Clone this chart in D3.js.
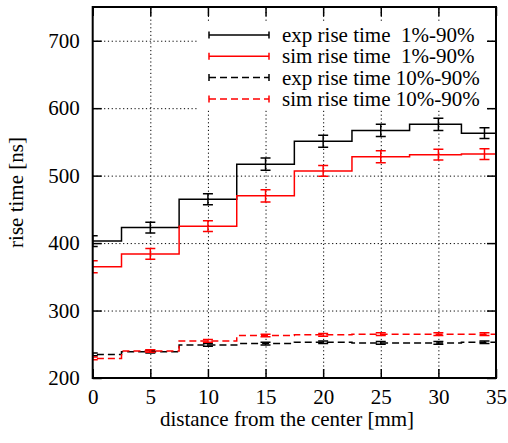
<!DOCTYPE html>
<html>
<head>
<meta charset="utf-8">
<script src="https://cdn.jsdelivr.net/npm/d3@7"></script>
<style>
  body { margin: 0; background: #fff; }
  svg { display: block; font-family: "Liberation Serif", "Times New Roman", serif; }
  .grid line { stroke: #000; stroke-width: 1; stroke-dasharray: 1.2,2.6; }
  .grid path { display: none; }
  .ax path { display: none; }
  .ax line { stroke: #000; stroke-width: 1.5; }
</style>
</head>
<body>
<script>
// distance from the center [mm]
var dist = [0, 5, 10, 15, 20, 25, 30, 34];

// rise time [ns]
var exp1 = [403, 423, 465, 517, 551, 567, 576, 563];
var exp1Err = [8, 8, 8, 9, 9, 9, 9, 8];
var sim1 = [365, 384, 425, 470, 507, 528, 531, 532];
var sim1Err = [9, 8, 8, 9, 8, 9, 8, 8];
var exp10 = [235, 239, 249, 251, 253, 252, 252, 253];
var exp10Err = [2, 2, 2, 2, 2, 2, 2, 2];
var sim10 = [229, 240, 255, 263, 264, 265, 265, 265];
var sim10Err = [2, 2, 2, 2, 2, 2, 2, 2];

var xTicks = [0, 5, 10, 15, 20, 25, 30, 35];
var yTicks = [200, 300, 400, 500, 600, 700];

var series = [
  {name: "exp rise time\u00a0\u00a01%-90%", y: exp1, err: exp1Err, color: "#000", dash: null},
  {name: "sim rise time\u00a0\u00a01%-90%", y: sim1, err: sim1Err, color: "#ff0000", dash: null},
  {name: "exp rise time 10%-90%", y: exp10, err: exp10Err, color: "#000", dash: "7,4"},
  {name: "sim rise time 10%-90%", y: sim10, err: sim10Err, color: "#ff0000", dash: "7,4"}
];

var W = 508, H = 443;
var pL = 92.7, pR = 496, pT = 7, pB = 378;
var serif = '"Liberation Serif", "Times New Roman", serif';

var x = d3.scaleLinear().domain([0, 35]).range([pL, pR]);
var y = d3.scaleLinear().domain([200, 750]).range([pB, pT]);

var svg = d3.select("body").append("svg")
  .attr("width", W)
  .attr("height", H);

svg.append("defs").append("clipPath").attr("id", "clip")
  .append("rect")
  .attr("x", pL).attr("y", pT)
  .attr("width", pR - pL).attr("height", pB - pT);

// grid
svg.append("g").attr("class", "grid")
  .attr("transform", "translate(0," + pB + ")")
  .call(d3.axisBottom(x).tickValues(xTicks.slice(1, -1)).tickSize(-(pB - pT)).tickFormat(""));
svg.append("g").attr("class", "grid")
  .attr("transform", "translate(" + pL + ",0)")
  .call(d3.axisLeft(y).tickValues(yTicks.slice(1)).tickSize(-(pR - pL)).tickFormat(""));

// data: histeps + error bars
var plot = svg.append("g").attr("clip-path", "url(#clip)");

function stepPoints(ys) {
  var n = dist.length, pts = [];
  for (var i = 0; i < n; i++) {
    var x0 = i === 0 ? dist[0] - (dist[1] - dist[0]) / 2 : (dist[i - 1] + dist[i]) / 2;
    var x1 = i === n - 1 ? dist[n - 1] + (dist[n - 1] - dist[n - 2]) / 2 : (dist[i] + dist[i + 1]) / 2;
    pts.push([x0, ys[i]]);
    pts.push([x1, ys[i]]);
  }
  return pts;
}

var line = d3.line().x(function (d) { return x(d[0]); }).y(function (d) { return y(d[1]); });

series.forEach(function (s) {
  plot.append("path")
    .attr("d", line(stepPoints(s.y)))
    .attr("fill", "none")
    .attr("stroke", s.color)
    .attr("stroke-width", 1.5)
    .attr("stroke-dasharray", s.dash);

  var eb = plot.append("g").attr("stroke", s.color).attr("stroke-width", 1.5);
  dist.forEach(function (d, i) {
    var cx = x(d), lo = y(s.y[i] - s.err[i]), hi = y(s.y[i] + s.err[i]);
    eb.append("line").attr("x1", cx).attr("x2", cx).attr("y1", lo).attr("y2", hi);
    eb.append("line").attr("x1", cx - 5).attr("x2", cx + 5).attr("y1", lo).attr("y2", lo);
    eb.append("line").attr("x1", cx - 5).attr("x2", cx + 5).attr("y1", hi).attr("y2", hi);
  });
});

// legend
var leg = svg.append("g");
leg.append("rect")
  .attr("x", 198).attr("y", 21)
  .attr("width", 289).attr("height", 89)
  .attr("fill", "#fff");
series.forEach(function (s, i) {
  var ly = 35 + i * 21.3;
  var g = leg.append("g").attr("stroke", s.color).attr("stroke-width", 1.5);
  g.append("line").attr("x1", 209).attr("x2", 269).attr("y1", ly).attr("y2", ly)
    .attr("stroke-dasharray", s.dash);
  g.append("line").attr("x1", 209).attr("x2", 209).attr("y1", ly - 3.5).attr("y2", ly + 3.5);
  g.append("line").attr("x1", 269).attr("x2", 269).attr("y1", ly - 3.5).attr("y2", ly + 3.5);
  leg.append("text")
    .attr("x", 282).attr("y", ly + 7)
    .attr("font-size", 21)
    .attr("fill", "#000")
    .style("white-space", "pre")
    .text(s.name);
});

// axes with inward ticks on all four sides
var xAx = svg.append("g").attr("class", "ax")
  .attr("transform", "translate(0," + pB + ")")
  .call(d3.axisBottom(x).tickValues(xTicks).tickSize(-9).tickPadding(11));
svg.append("g").attr("class", "ax")
  .attr("transform", "translate(0," + pT + ")")
  .call(d3.axisTop(x).tickValues(xTicks).tickSize(-9).tickFormat(""));
var yAx = svg.append("g").attr("class", "ax")
  .attr("transform", "translate(" + pL + ",0)")
  .call(d3.axisLeft(y).tickValues(yTicks).tickSize(-9).tickPadding(13));
svg.append("g").attr("class", "ax")
  .attr("transform", "translate(" + pR + ",0)")
  .call(d3.axisRight(y).tickValues(yTicks).tickSize(-9).tickFormat(""));

[xAx, yAx].forEach(function (a) {
  a.attr("font-family", serif).attr("font-size", 21);
  a.selectAll("text").style("font-family", serif).style("font-size", "21px").attr("fill", "#000");
});

// frame
svg.append("rect")
  .attr("x", pL).attr("y", pT)
  .attr("width", pR - pL).attr("height", pB - pT)
  .attr("fill", "none")
  .attr("stroke", "#000")
  .attr("stroke-width", 2);

// axis titles
svg.append("text")
  .attr("x", 287).attr("y", 426)
  .attr("text-anchor", "middle")
  .attr("font-size", 21)
  .text("distance from the center [mm]");
svg.append("text")
  .attr("transform", "translate(23," + ((pT + pB) / 2) + ") rotate(-90)")
  .attr("text-anchor", "middle")
  .attr("font-size", 21)
  .text("rise time [ns]");
</script>
</body>
</html>
